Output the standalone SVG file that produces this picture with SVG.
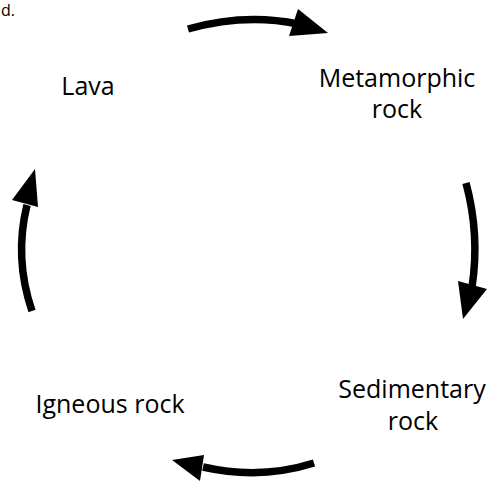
<svg xmlns="http://www.w3.org/2000/svg" width="495" height="481" viewBox="0 0 495 481">
<style>
.lbl{font-family:"Open Sans","Liberation Sans",sans-serif;font-size:25px;fill:#000;text-anchor:middle}
.shaft{fill:none;stroke:#000;stroke-width:7.5;stroke-linecap:butt}
.head{fill:#000;stroke:none}
</style>
<rect width="495" height="481" fill="#fff"/>
<text x="1" y="16" style="font-family:'Open Sans','Liberation Sans',sans-serif;font-size:16px;fill:#000">d.</text>
<g id="node-lava"><text class="lbl" x="88" y="95">Lava</text></g>
<g id="node-metamorphic"><text class="lbl" x="397" y="87">Metamorphic</text><text class="lbl" x="397" y="118">rock</text></g>
<g id="node-sedimentary"><text class="lbl" x="412" y="398">Sedimentary</text><text class="lbl" x="413" y="430">rock</text></g>
<g id="node-igneous"><text class="lbl" x="110" y="413">Igneous rock</text></g>
<g id="connectors">
<path class="shaft" d="M188,29 Q245,13 298,24"/>
<polygon class="head" points="298,9 328,33 289,36"/>
<path class="shaft" d="M466,183 Q480,235 472,287"/>
<polygon class="head" points="458,281 463,319 487,289"/>
<path class="shaft" d="M314,463 Q260,480 203,467"/>
<polygon class="head" points="204,455 172,460 200,481"/>
<path class="shaft" d="M32,311 Q14,258 27,205"/>
<polygon class="head" points="12,200 35,169 38,207"/>
</g>
</svg>
